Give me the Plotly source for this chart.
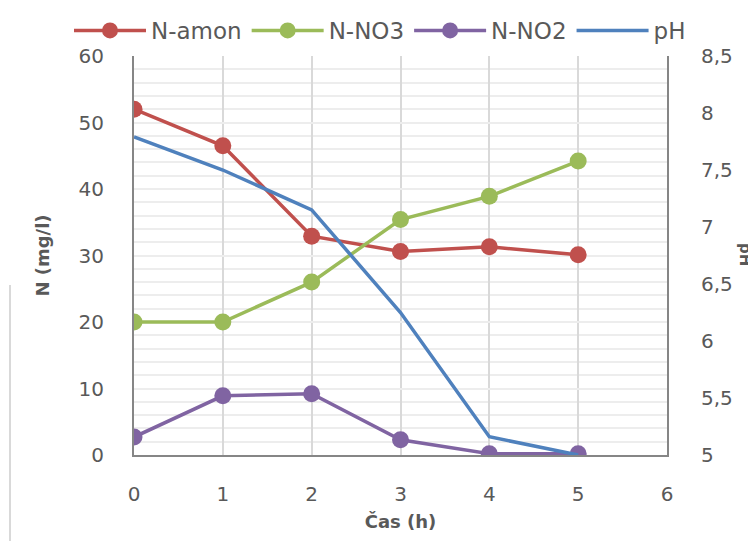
import plotly.graph_objects as go

hours = [0, 1, 2, 3, 4, 5]
n_amon = [52.0, 46.5, 32.9, 30.6, 31.3, 30.1]
n_no3 = [20.0, 20.0, 26.0, 35.4, 38.9, 44.2]
n_no2 = [2.7, 8.9, 9.2, 2.3, 0.2, 0.2]
ph = [7.79, 7.50, 7.15, 6.25, 5.16, 5.0]

FONT = "DejaVu Sans"
TXT = "#595959"

fig = go.Figure()
fig.add_trace(go.Scatter(x=hours, y=n_amon, name="N-amon", mode="lines+markers",
                         line=dict(color="#C0504D", width=3.5), marker=dict(size=17, color="#C0504D")))
fig.add_trace(go.Scatter(x=hours, y=n_no3, name="N-NO3", mode="lines+markers",
                         line=dict(color="#9BBB59", width=3.5), marker=dict(size=17, color="#9BBB59")))
fig.add_trace(go.Scatter(x=hours, y=n_no2, name="N-NO2", mode="lines+markers",
                         line=dict(color="#8064A2", width=3.5), marker=dict(size=17, color="#8064A2")))
fig.add_trace(go.Scatter(x=hours, y=ph, name="pH", mode="lines", yaxis="y2",
                         line=dict(color="#4F81BD", width=3.5)))

fig.update_layout(
    width=748, height=533,
    margin=dict(l=126, r=89, t=48, b=86, autoexpand=False),
    paper_bgcolor="white", plot_bgcolor="white",
    font=dict(family=FONT, size=20, color=TXT),
    separators=", ",
    showlegend=True,
    legend=dict(orientation="h", x=(61 - 126) / 533, xanchor="left",
                y=1.01, yref="paper", yanchor="bottom",
                font=dict(size=23, color=TXT), itemwidth=72, traceorder="normal",
                bgcolor="rgba(0,0,0,0)"),
    xaxis=dict(range=[0, 6], dtick=1, tick0=0, showgrid=True, gridcolor="#D9D9D9", gridwidth=2,
               zeroline=False, showline=True, linecolor="#868686", linewidth=2,
               ticks="", ticklabelstandoff=20, automargin=False,
               title=dict(text="<b>Čas (h)</b>", font=dict(size=18, color=TXT), standoff=10)),
    yaxis=dict(range=[0, 60], dtick=10, showgrid=True, gridcolor="#EDEDED", gridwidth=2,
               minor=dict(dtick=2, showgrid=True, gridcolor="#EDEDED", gridwidth=2),
               zeroline=False, showline=True, linecolor="#868686", linewidth=2,
               ticks="", ticklabelstandoff=24, automargin=False,
               title=dict(text="<b>N (mg/l)</b>", font=dict(size=18, color=TXT), standoff=24)),
    yaxis2=dict(range=[5, 8.5], dtick=0.5, overlaying="y", side="right", showgrid=False,
                zeroline=False, showline=True, linecolor="#868686", linewidth=2,
                ticks="", ticklabelstandoff=28, automargin=False),
    annotations=[dict(text="<b>pH</b>", xref="x domain", x=(745 - 134) / 533, xanchor="center",
                      yref="paper", y=(455 - 254) / 399, yanchor="middle",
                      showarrow=False, textangle=90, font=dict(size=15, color=TXT))],
)
fig.add_shape(type="line", xref="paper", yref="paper", x0=(10 - 134) / 533, x1=(10 - 134) / 533,
              y0=(455 - 285) / 399, y1=(455 - 545) / 399, line=dict(color="#D9D9D9", width=2))

fig.write_html("out.html")
